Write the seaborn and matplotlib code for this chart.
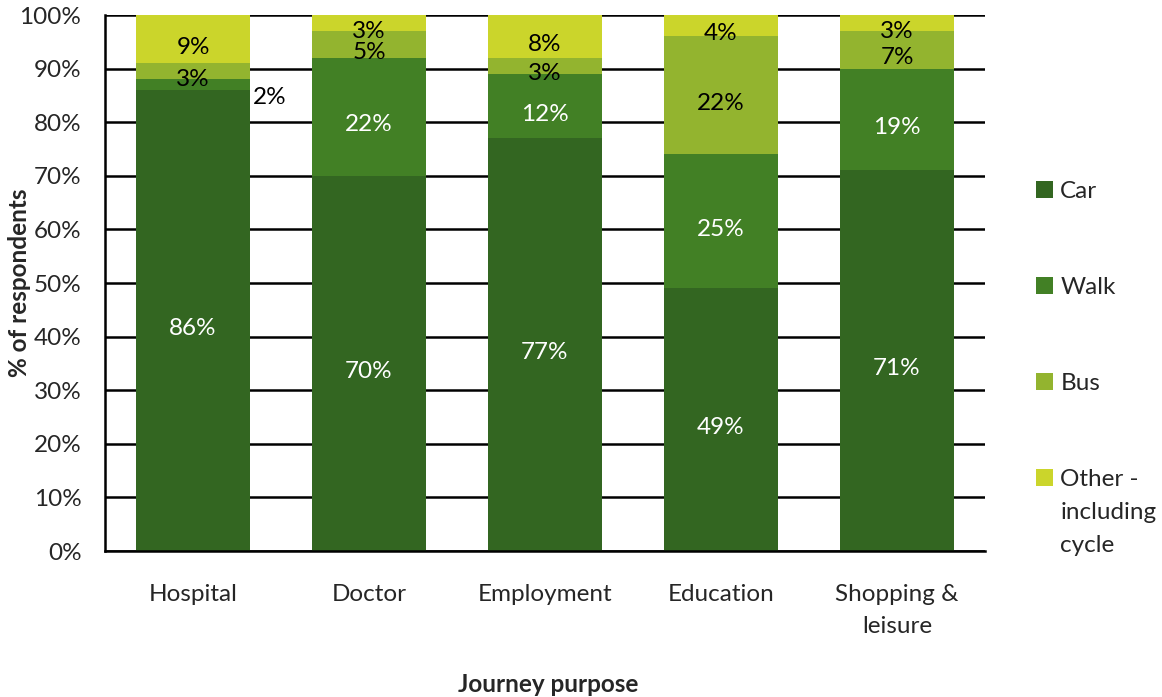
import matplotlib
matplotlib.use("Agg")
import matplotlib.pyplot as plt
import seaborn as sns
import pandas as pd
import numpy as np
from matplotlib.patches import Patch

purposes = ["Hospital", "Doctor", "Employment", "Education", "Shopping &\nleisure"]
modes = ["Car", "Walk", "Bus", "Other -"]
other_cont = ["including", "cycle"]
car = [86, 70, 77, 49, 71]
walk = [2, 22, 12, 25, 19]
bus = [3, 5, 3, 22, 7]
other = [9, 3, 8, 4, 3]
colors = ["#336621", "#428025", "#93b42f", "#cbd52b"]
label_colors = ["white", "white", "black", "black"]
yticks = [0, 10, 20, 30, 40, 50, 60, 70, 80, 90, 100]

sns.set_style("white")
FONT = ["Lato", "DejaVu Sans"]
plt.rcParams["font.family"] = FONT
FS = 17.5

df = pd.DataFrame({"purpose": purposes, "Car": car, "Walk": walk, "Bus": bus, "Other": other})
series = [df["Car"], df["Walk"], df["Bus"], df["Other"]]
cum = np.cumsum(np.vstack(series), axis=0)

fig = plt.figure(figsize=(11.62, 6.97), dpi=100)
ax = fig.add_axes([105/1162, 1-551/697, 880/1162, 536/697])

for g in yticks:
    ax.axhline(g, color="black", lw=1.8, zorder=0)

for i in range(3, -1, -1):
    tmp = pd.DataFrame({"purpose": purposes, "val": cum[i]})
    sns.barplot(data=tmp, x="purpose", y="val", color=colors[i], saturation=1,
                width=0.65, ax=ax, zorder=2, edgecolor="none", linewidth=0)

for i in range(4):
    vals = series[i].values
    for j in range(len(purposes)):
        v = vals[j]
        center = cum[i][j] - v / 2
        if v < 2.5 and i == 1:
            ax.text(j + 0.34, center - 2.3, f"{v}%", ha="left", va="center",
                    fontsize=FS, color="black", zorder=3)
        else:
            ax.text(j, center - 1.5, f"{v}%", ha="center", va="center",
                    fontsize=FS, color=label_colors[i], zorder=3)

ax.set_xlim(-0.5, 4.5)
ax.set_ylim(0, 100)
ax.set_yticks(yticks)
ax.set_yticklabels([f"{t}%" for t in yticks], fontsize=FS)
ax.set_xticks(range(len(purposes)))
ax.set_xticklabels(purposes, fontsize=FS, linespacing=1.6)
ax.tick_params(axis="y", length=0, pad=17)
ax.tick_params(axis="x", length=0, pad=24)
for s in ["top", "right"]:
    ax.spines[s].set_visible(False)
for s in ["left", "bottom"]:
    ax.spines[s].set_color("black")
    ax.spines[s].set_linewidth(1.8)
    ax.spines[s].set_zorder(4)

ax.set_xlabel("")
ax.set_ylabel("% of respondents", fontsize=FS, fontweight="bold", va="center")
ax.yaxis.set_label_coords((20 - 105) / 880, 0.5)
fig.text(548/1162, 1-684/697, "Journey purpose", ha="center", va="center",
         fontsize=FS, fontweight="bold")

handles = [Patch(facecolor=c, edgecolor="none") for c in colors]
leg = fig.legend(handles, modes, loc="upper left", bbox_to_anchor=(1036/1162, 1-181/697),
                 frameon=False, fontsize=FS, handlelength=0.7, handleheight=0.7,
                 handletextpad=0.3, labelspacing=3.09, borderaxespad=0, borderpad=0)

fig.canvas.draw()
tb = leg.get_texts()[3].get_window_extent()
for k, line in enumerate(other_cont, start=1):
    fig.text(tb.x0 / fig.bbox.width, (tb.y0 - 33 * k) / fig.bbox.height, line,
             ha="left", va="bottom", fontsize=FS)

fig.savefig("out.png", dpi=100)
